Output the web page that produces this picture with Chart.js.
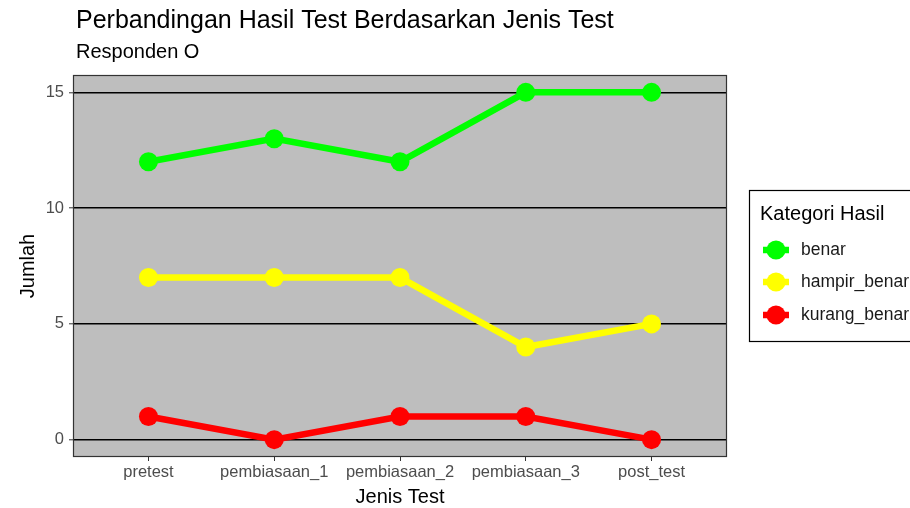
<!DOCTYPE html>
<html><head><meta charset="utf-8">
<script src="https://cdn.jsdelivr.net/npm/chart.js@4/dist/chart.umd.min.js"></script>
<style>html,body{margin:0;padding:0;background:#fff}#wrap{width:910px;height:508px}</style>
</head><body><div id="wrap"><canvas id="c" width="910" height="508"></canvas></div>
<script>
const categories = ['pretest', 'pembiasaan_1', 'pembiasaan_2', 'pembiasaan_3', 'post_test'];
const benar = [12, 13, 12, 15, 15];
const hampirBenar = [7, 7, 7, 4, 5];
const kurangBenar = [1, 0, 1, 1, 0];
const yTicks = [0, 5, 10, 15];
const seriesNames = ['benar', 'hampir_benar', 'kurang_benar'];
const seriesColors = ['#00ff00', '#ffff00', '#ff0000'];
const titleText = 'Perbandingan Hasil Test Berdasarkan Jenis Test';
const subtitleText = 'Responden O';
const legendTitle = 'Kategori Hasil';

const FONT = "'Liberation Sans', Arial, Helvetica, sans-serif";
const seriesValues = [benar, hampirBenar, kurangBenar];

const datasets = seriesValues.map((vals, k) => ({
  label: seriesNames[k],
  data: vals.map((v, i) => ({ x: i, y: v })),
  borderColor: seriesColors[k],
  backgroundColor: seriesColors[k],
  pointBackgroundColor: seriesColors[k],
  pointBorderWidth: 0,
  pointRadius: 9.5,
  pointHoverRadius: 9.5,
  borderWidth: 6.5,
  tension: 0,
  order: k
}));

const ggPlugin = {
  id: 'gg',
  beforeDraw(chart) {
    const { ctx, chartArea: a } = chart;
    ctx.save();
    ctx.fillStyle = '#bebebe';
    ctx.fillRect(a.left, a.top, a.right - a.left, a.bottom - a.top);
    ctx.restore();
  },
  afterDatasetsDraw(chart) {
    const { ctx, chartArea: a } = chart;
    ctx.save();
    ctx.strokeStyle = '#333333';
    ctx.lineWidth = 1.2;
    ctx.strokeRect(a.left + 0.5, a.top + 0.5, a.right - a.left - 1, a.bottom - a.top - 1);
    ctx.restore();
  },
  afterDraw(chart) {
    const { ctx } = chart;
    ctx.save();
    // title + subtitle
    ctx.fillStyle = '#000';
    ctx.textAlign = 'left';
    ctx.textBaseline = 'alphabetic';
    ctx.font = '25px ' + FONT;
    ctx.fillText(titleText, 76, 28);
    ctx.font = '20px ' + FONT;
    ctx.fillText(subtitleText, 76, 58);
    // legend
    ctx.strokeStyle = '#000';
    ctx.lineWidth = 1.2;
    ctx.strokeRect(749.5, 190.5, 170, 151);
    ctx.font = '20px ' + FONT;
    ctx.textBaseline = 'middle';
    ctx.fillText(legendTitle, 760, 214);
    const ys = [250, 282, 315];
    chart.data.datasets.forEach((ds, k) => {
      const y = ys[k];
      ctx.strokeStyle = ds.borderColor;
      ctx.lineWidth = 6.5;
      ctx.beginPath();
      ctx.moveTo(763, y);
      ctx.lineTo(789, y);
      ctx.stroke();
      ctx.fillStyle = ds.borderColor;
      ctx.beginPath();
      ctx.arc(776, y, 9.5, 0, Math.PI * 2);
      ctx.fill();
      ctx.fillStyle = '#1a1a1a';
      ctx.font = '17.5px ' + FONT;
      ctx.fillText(ds.label, 801, y);
    });
    ctx.restore();
  }
};

new Chart(document.getElementById('c'), {
  type: 'line',
  data: { datasets },
  plugins: [ggPlugin],
  options: {
    responsive: false,
    devicePixelRatio: 1,
    animation: false,
    events: [],
    layout: { padding: { top: 75, left: 0, right: 183, bottom: 0 } },
    plugins: { legend: { display: false }, title: { display: false }, tooltip: { enabled: false } },
    scales: {
      x: {
        type: 'linear',
        min: -0.6,
        max: 4.6,
        afterBuildTicks(s) { s.ticks = categories.map((_, i) => ({ value: i })); },
        afterFit(s) { s.height = 51; },
        border: { display: false },
        grid: { drawOnChartArea: false, drawTicks: true, tickLength: 4, tickColor: '#333333', tickWidth: 1 },
        ticks: {
          autoSkip: false, maxRotation: 0, padding: 2,
          color: '#4d4d4d', font: { family: FONT, size: 16.5 },
          callback: (v) => categories[v]
        },
        title: { display: true, text: 'Jenis Test', color: '#000', font: { family: FONT, size: 20, lineHeight: 1 }, padding: { top: 0, bottom: 1 } }
      },
      y: {
        min: -0.75,
        max: 15.75,
        afterBuildTicks(s) { s.ticks = yTicks.map(v => ({ value: v })); },
        afterFit(s) { s.width = 73; },
        border: { display: false },
        grid: { color: '#000000', lineWidth: 1.6, drawTicks: true, tickLength: 4, tickColor: '#333333', tickWidth: 1 },
        ticks: { padding: 5, color: '#4d4d4d', font: { family: FONT, size: 16.5 } },
        title: { display: true, text: 'Jumlah', color: '#000', font: { family: FONT, size: 20, lineHeight: 1.2 }, padding: { top: 16, bottom: 0 } }
      }
    }
  }
});
</script></body></html>
